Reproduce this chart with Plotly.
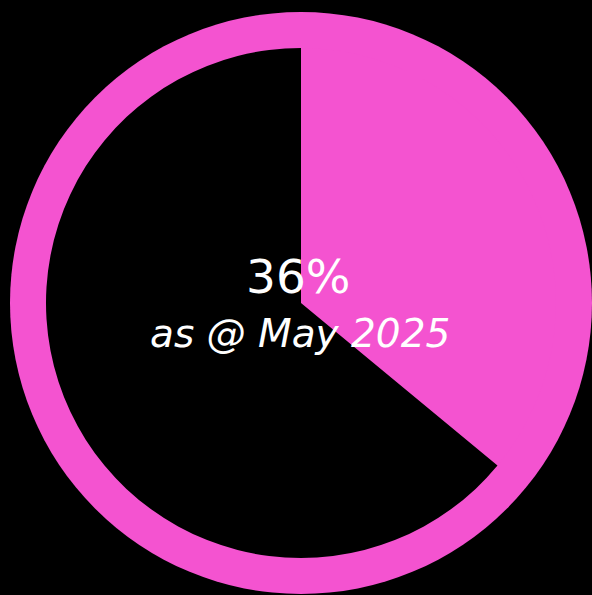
import plotly.graph_objects as go

# Share reached and remainder, in percent
labels = ["Reached", "Remaining"]
values = [36, 64]
headline = "36%"
caption = "as @ May 2025"

PINK = "#f453d0"
BLACK = "#000000"
W, H = 592, 595

fig = go.Figure()

# Full pink disc behind everything (forms the outer ring)
fig.add_trace(go.Pie(
    values=[100], labels=["All"], sort=False,
    marker=dict(colors=[PINK], line=dict(width=0)),
    textinfo="none", hoverinfo="skip", showlegend=False,
    domain=dict(x=[10 / W, 1.0], y=[1 - 594 / H, 1 - 12 / H]),
))

# Inner pie: pink share starting at 12 o'clock, clockwise
fig.add_trace(go.Pie(
    values=values, labels=labels, sort=False, direction="clockwise", rotation=0,
    marker=dict(colors=[PINK, BLACK], line=dict(width=0)),
    textinfo="none", hoverinfo="label+value", showlegend=False,
    domain=dict(x=[46 / W, 556 / W], y=[1 - 558 / H, 1 - 48 / H]),
))

fig.add_annotation(
    text=headline, x=298 / W, y=1 - 276 / H, xref="paper", yref="paper",
    showarrow=False, font=dict(family="DejaVu Sans", size=47, color="white"),
    xanchor="center", yanchor="middle",
)
fig.add_annotation(
    text=f"<i>{caption}</i>", x=300 / W, y=1 - 333 / H, xref="paper", yref="paper",
    showarrow=False, font=dict(family="DejaVu Sans", size=39, color="white"),
    xanchor="center", yanchor="middle",
)

fig.update_layout(
    width=W, height=H, margin=dict(l=0, r=0, t=0, b=0),
    paper_bgcolor=BLACK, plot_bgcolor=BLACK,
)

fig.write_html("out.html")
